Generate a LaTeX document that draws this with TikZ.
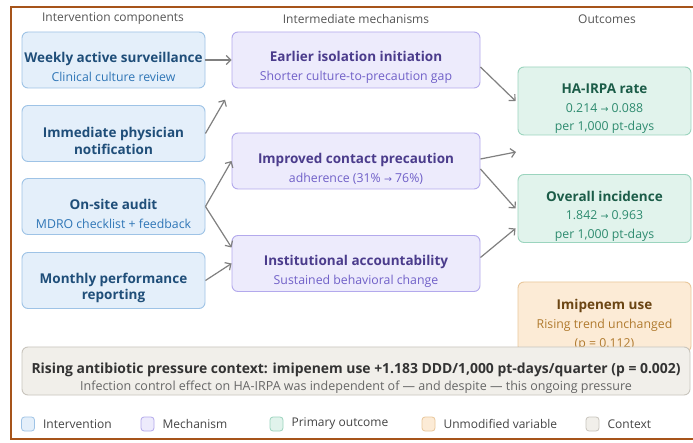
\documentclass[tikz,border=0pt]{standalone}
\usepackage{fontspec}
\setmainfont{Open Sans}
\newfontfamily\symfont{DejaVu Sans}
\usetikzlibrary{arrows.meta,calc}

\definecolor{framecol}{RGB}{166,84,26}
\definecolor{hdrcol}{RGB}{85,85,85}
\definecolor{arrcol}{RGB}{128,128,128}
\definecolor{ivfill}{RGB}{228,239,250}
\definecolor{ivline}{RGB}{158,195,230}
\definecolor{ivtitle}{RGB}{31,78,121}
\definecolor{ivsub}{RGB}{46,117,182}
\definecolor{mfill}{RGB}{237,235,252}
\definecolor{mline}{RGB}{179,169,236}
\definecolor{mtitle}{RGB}{75,60,140}
\definecolor{msub}{RGB}{112,96,200}
\definecolor{ofill}{RGB}{225,243,236}
\definecolor{oline}{RGB}{155,212,190}
\definecolor{otitle}{RGB}{27,92,72}
\definecolor{osub}{RGB}{46,139,111}
\definecolor{ufill}{RGB}{252,235,214}
\definecolor{uline}{RGB}{233,199,155}
\definecolor{utitle}{RGB}{107,69,19}
\definecolor{usub}{RGB}{176,122,46}
\definecolor{cfill}{RGB}{241,239,234}
\definecolor{cline}{RGB}{201,197,189}
\definecolor{ctitle}{RGB}{51,51,51}
\definecolor{csub}{RGB}{102,102,102}
\definecolor{legtext}{RGB}{68,68,68}

% extra head room on a box's first line, which sets its text a little low
\newcommand{\headroom}{\rule{0pt}{25pt}}
% bold first line of a box, in the box's title colour
\newcommand{\boxtitle}[2]{{\headroom\fontsize{13.5}{16}\selectfont\bfseries\color{#1}#2}}
% small arrow glyph used in the before/after figures
\newcommand{\tofig}{{\symfont\fontsize{9.5}{10}\selectfont →}}

\tikzset{
  box/.style={draw, rounded corners=6pt, line width=0.9pt, align=center, inner sep=0pt},
  ivbox/.style={box, fill=ivfill, draw=ivline, text=ivsub,
    minimum width=183pt, minimum height=56pt, font=\fontsize{12.3}{19}\selectfont},
  ivbold/.style={ivbox, text=ivtitle, font=\fontsize{13.5}{16.5}\selectfont\bfseries},
  mbox/.style={box, fill=mfill, draw=mline, text=msub,
    minimum width=248pt, minimum height=56pt, font=\fontsize{12.3}{19}\selectfont},
  obox/.style={box, fill=ofill, draw=oline, text=osub,
    minimum width=173pt, minimum height=68pt, font=\fontsize{12.3}{18.5}\selectfont},
  ubox/.style={box, fill=ufill, draw=uline, text=usub,
    minimum width=173pt, minimum height=70pt, font=\fontsize{12.3}{19}\selectfont},
  cbox/.style={box, fill=cfill, draw=cline, text=csub,
    minimum width=668pt, minimum height=48pt, font=\fontsize{12.5}{17}\selectfont},
  hdr/.style={text=hdrcol, font=\fontsize{12}{14}\selectfont, inner sep=0pt},
  arr/.style={draw=arrcol, line width=1.2pt, -{Straight Barb[length=4.5pt,width=9pt]}},
  legsq/.style={draw, rounded corners=3pt, line width=0.8pt,
    minimum width=13pt, minimum height=14pt, inner sep=0pt},
  legtxt/.style={text=legtext, font=\fontsize{12}{14}\selectfont, inner sep=0pt, anchor=west},
}

\begin{document}
\begin{tikzpicture}[x=1pt,y=-1pt]
  \useasboundingbox (0,0) rectangle (693,443);
  \fill[white] (0,0) rectangle (693,443);
  \draw[framecol, line width=2pt] (11,7) rectangle (720,439);

  % column headings
  \node[hdr] (h1) at (113,19) {Intervention components};
  \node[hdr] (h2) at (356,19) {Intermediate mechanisms};
  \node[hdr] (h3) at (607,19) {Outcomes};

  % intervention components
  \node[ivbox] (iv1) at (113.5,60) {\boxtitle{ivtitle}{Weekly active surveillance}\\Clinical culture review};
  \node[ivbold] (iv2) at (113.5,133.5) {\headroom Immediate physician\\notification};
  \node[ivbox] (iv3) at (113.5,206.5) {\boxtitle{ivtitle}{On-site audit}\\MDRO checklist + feedback};
  \node[ivbold] (iv4) at (113.5,280.5) {\headroom Monthly performance\\reporting};

  % intermediate mechanisms
  \node[mbox] (m1) at (356,60) {\boxtitle{mtitle}{Earlier isolation initiation}\\Shorter culture-to-precaution gap};
  \node[mbox] (m2) at (356,161) {\boxtitle{mtitle}{Improved contact precaution}\\adherence (31\% \tofig{} 76\%)};
  \node[mbox] (m3) at (356,263.5) {\boxtitle{mtitle}{Institutional accountability}\\Sustained behavioral change};

  % outcomes
  \node[obox] (o1) at (604.5,101) {\boxtitle{otitle}{HA-IRPA rate}\\0.214 \tofig{} 0.088\\per 1,000 pt-days};
  \node[obox] (o2) at (604.5,208.5) {\boxtitle{otitle}{Overall incidence}\\1.842 \tofig{} 0.963\\per 1,000 pt-days};
  \node[ubox] (imi) at (604.5,317) {\boxtitle{utitle}{Imipenem use}\\Rising trend unchanged\\(p = 0.112)};

  % context banner
  \node[cbox] (ctx) at (356,371) {{\headroom\fontsize{13.9}{16}\selectfont\bfseries\color{ctitle}Rising antibiotic pressure context: imipenem use +1.183 DDD/1,000 pt-days/quarter (p = 0.002)}\\Infection control effect on HA-IRPA was independent of — and despite — this ongoing pressure};

  % connectors
  \coordinate (gap) at (516,152);
  \draw[arr] (iv1.east) -- (m1.west);
  \draw[arr, shorten >=13pt] (iv2.east) -- (m1.south west);
  \draw[arr] (iv3.east) -- (m2.west);
  \draw[arr] (iv3.east) -- ([yshift=16pt]m3.west);
  \draw[arr] (iv4.east) -- (m3.west);
  \draw[arr] ([yshift=-7pt]m1.east) -- ([xshift=-2pt]o1.west);
  \draw[arr] ([yshift=2pt]m2.east) -- (gap);
  \draw[arr] ([yshift=-8pt]m2.east) -- ([xshift=-2pt]o2.west);
  \draw[arr] ([yshift=6pt]m3.east) -- ([xshift=-2pt,yshift=-20pt]o2.west);

  % legend
  \node[legsq, fill=ivfill, draw=ivline] (l1) at (28,424) {};
  \node[legtxt] (t1) at ([xshift=8pt]l1.east) {Intervention};
  \node[legsq, fill=mfill, draw=mline] (l2) at (147.5,424) {};
  \node[legtxt] (t2) at ([xshift=8pt]l2.east) {Mechanism};
  \node[legsq, fill=ofill, draw=oline] (l3) at (276.5,424) {};
  \node[legtxt] (t3) at ([xshift=8pt]l3.east) {Primary outcome};
  \node[legsq, fill=ufill, draw=uline] (l4) at (428.5,424) {};
  \node[legtxt] (t4) at ([xshift=8pt]l4.east) {Unmodified variable};
  \node[legsq, fill=cfill, draw=cline] (l5) at (592.5,424) {};
  \node[legtxt] (t5) at ([xshift=8pt]l5.east) {Context};
\end{tikzpicture}
\end{document}
